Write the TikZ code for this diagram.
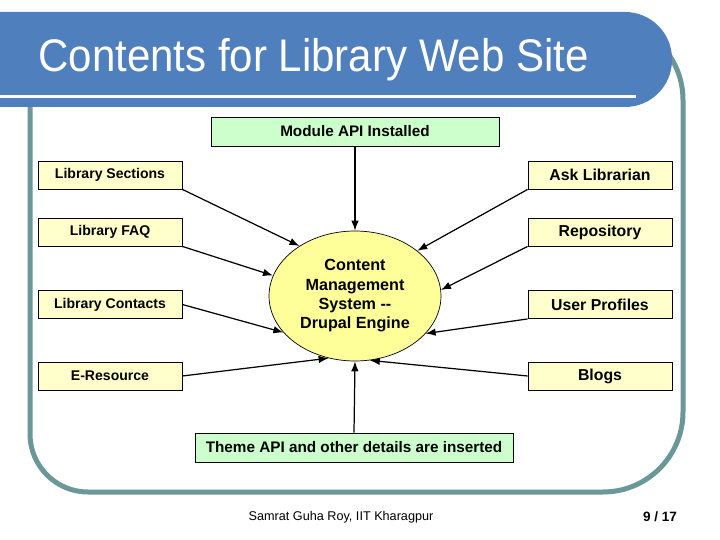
\documentclass[tikz,border=0pt]{standalone}
\usepackage{fontspec}
\setmainfont{Liberation Sans}
\newfontfamily\titlefont[FakeStretch=0.92]{Liberation Sans}
\usetikzlibrary{arrows.meta, shapes.geometric}
\definecolor{bannerblue}{HTML}{4F80BD}
\definecolor{framegray}{HTML}{6A9797}
\definecolor{itemfill}{HTML}{FFFFCC}
\definecolor{apifill}{HTML}{CCFFCC}
\definecolor{corefill}{HTML}{FFFF99}

\begin{document}
\begin{tikzpicture}[
    x=0.02cm,
    y=-0.02cm,
    itembox/.style={
        draw,
        fill=itemfill,
        line width=0.5pt,
        minimum width=2.88cm,
        minimum height=0.56cm,
        inner sep=0pt
    },
    leftitem/.style={
        itembox,
        font=\bfseries\fontsize{8}{10}\selectfont
    },
    rightitem/.style={
        itembox,
        font=\bfseries\fontsize{9}{11}\selectfont
    },
    apibox/.style={
        draw,
        fill=apifill,
        line width=0.5pt,
        minimum height=0.58cm,
        inner sep=0pt,
        font=\bfseries\fontsize{8.7}{10}\selectfont
    },
    corenode/.style={
        ellipse,
        draw,
        fill=corefill,
        line width=0.4pt,
        minimum width=3.44cm,
        minimum height=2.6cm,
        inner sep=0pt,
        align=center,
        font=\bfseries\fontsize{9.2}{11}\selectfont
    },
    feeds/.style={
        -{Latex[length=2mm, width=1.5mm]},
        line width=0.7pt
    },
    frameline/.style={
        framegray,
        line width=0.1cm
    }
]
    \useasboundingbox (0,0) rectangle (720,540);

    % slide frame
    \draw[frameline, rounded corners=1.16cm] (30,60) -- (30,492) -- (400,492);
    \draw[frameline, rounded corners=1.6cm] (400,492) -- (683,492) -- (683,20) -- (560,20);

    % title banner
    \fill[bannerblue] (0,12) [rounded corners=0.94cm] -- (672,12) -- (672,107) [sharp corners] -- (0,107) -- cycle;
    \draw[white, line width=0.06cm] (0,97) -- (636,97);
    \node[anchor=base west, inner sep=0pt, text=white, font=\titlefont\fontsize{26}{30}\selectfont] (title) at (38,72) {Contents for Library Web Site};

    % central engine
    \node[corenode] (core) at (355,296) {Content\\Management\\System -{}-\\Drupal Engine};

    \node[apibox, minimum width=5.76cm] (api) at (355,131.5) {Module API Installed};
    \node[apibox, minimum width=6.36cm] (theme) at (354,447.5) {Theme API and other details are inserted};

    % left column
    \node[leftitem] (sections) at (110,175) {Library Sections};
    \node[leftitem] (faq) at (110,232) {Library FAQ};
    \node[leftitem] (contacts) at (110,304.5) {Library Contacts};
    \node[leftitem] (eresource) at (110,376) {E-Resource};

    % right column
    \node[rightitem] (ask) at (600,175) {Ask Librarian};
    \node[rightitem] (repository) at (600,232) {Repository};
    \node[rightitem] (profiles) at (600,304.5) {User Profiles};
    \node[rightitem] (blogs) at (600,376) {Blogs};

    \draw[feeds] (api.south) -- (core.north);
    \draw[feeds] (theme.north) -- (core.south);

    \draw[feeds] (sections.south east) -- (core.138);
    \draw[feeds] (faq.south east) -- (core.166);
    \draw[feeds] (contacts.east) -- (core.207);
    \draw[feeds] (eresource.east) -- (core.247);

    \draw[feeds] (ask.south west) -- (core.36);
    \draw[feeds] (repository.south west) -- (core.4);
    \draw[feeds] (profiles.south west) -- (core.332);
    \draw[feeds] (blogs.west) -- (core.283);

    % footer
    \node[font=\fontsize{7.2}{8}\selectfont] (author) at (341,517) {Samrat Guha Roy, IIT Kharagpur};
    \node[font=\bfseries\fontsize{7.7}{9}\selectfont] (pagenum) at (660,517) {9 / 17};
\end{tikzpicture}
\end{document}
